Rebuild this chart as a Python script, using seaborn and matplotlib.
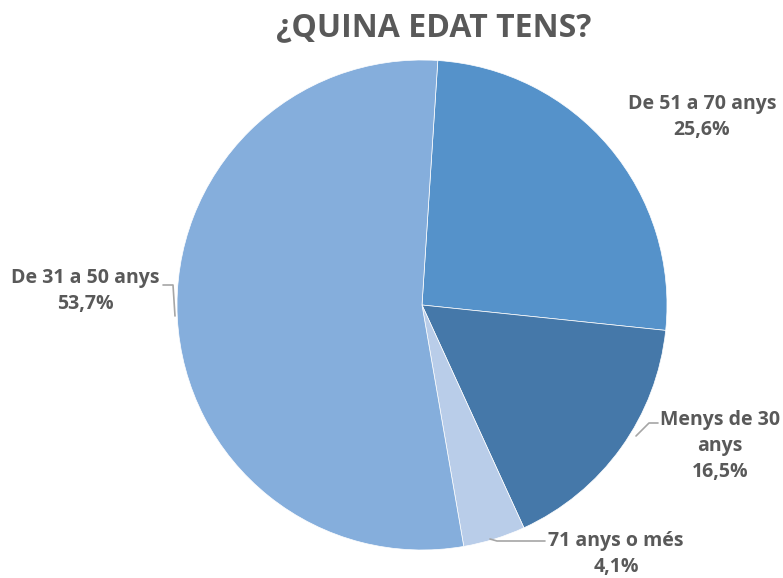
import matplotlib
matplotlib.use("Agg")
import matplotlib.pyplot as plt
import seaborn as sns
import numpy as np

title = "¿QUINA EDAT TENS?"
categories = ["De 51 a 70 anys", "Menys de 30 anys", "71 anys o més", "De 31 a 50 anys"]
label_texts = ["De 51 a 70 anys", "Menys de 30\nanys", "71 anys o més", "De 31 a 50 anys"]
values = [25.6, 16.5, 4.1, 53.7]
colors = ["#5592CA", "#4578A9", "#B9CDE9", "#85AEDC"]

sns.set_theme(style="white")
plt.rcParams['font.family'] = ['Open Sans', 'DejaVu Sans']

W, H = 783, 578
fig = plt.figure(figsize=(W / 100, H / 100), dpi=100)
ax = fig.add_axes([0, 0, 1, 1])

cx, cy, r = 422, H - 305, 245
wedges, _ = ax.pie(values, colors=colors, startangle=86.3, counterclock=False,
                   center=(cx, cy), radius=r, frame=True,
                   wedgeprops=dict(edgecolor="white", linewidth=0.5))
ax.set_xlim(0, W)
ax.set_ylim(0, H)
ax.set_aspect('equal')
ax.axis('off')

txtc = "#595959"
fs = 14
# label positions (pixel coords, y from top)
lab_pos = [(702, 117), (720, 446), (616, 554), (85, 291)]
for txt, v, (x, y) in zip(label_texts, values, lab_pos):
    s = f"{txt}\n{v:.1f}%".replace(".", ",")
    ax.text(x, H - y, s, ha="center", va="center", fontsize=fs, fontweight="bold",
            color=txtc, linespacing=1.4)

lc = "#A6A6A6"
# leader lines
ax.plot([163, 173, 175], [H - 285, H - 285, H - 316], color=lc, lw=1.2)
ax.plot([658, 649, 636], [H - 423, H - 423, H - 436], color=lc, lw=1.2)
ax.plot([545, 497, 490], [H - 541, H - 541, H - 539], color=lc, lw=1.2)

fig.text(434 / W, 1 - 28 / H, title, ha="center", va="center", fontsize=23,
         fontweight="bold", color=txtc)

fig.savefig("out.png", dpi=100, facecolor="white")
